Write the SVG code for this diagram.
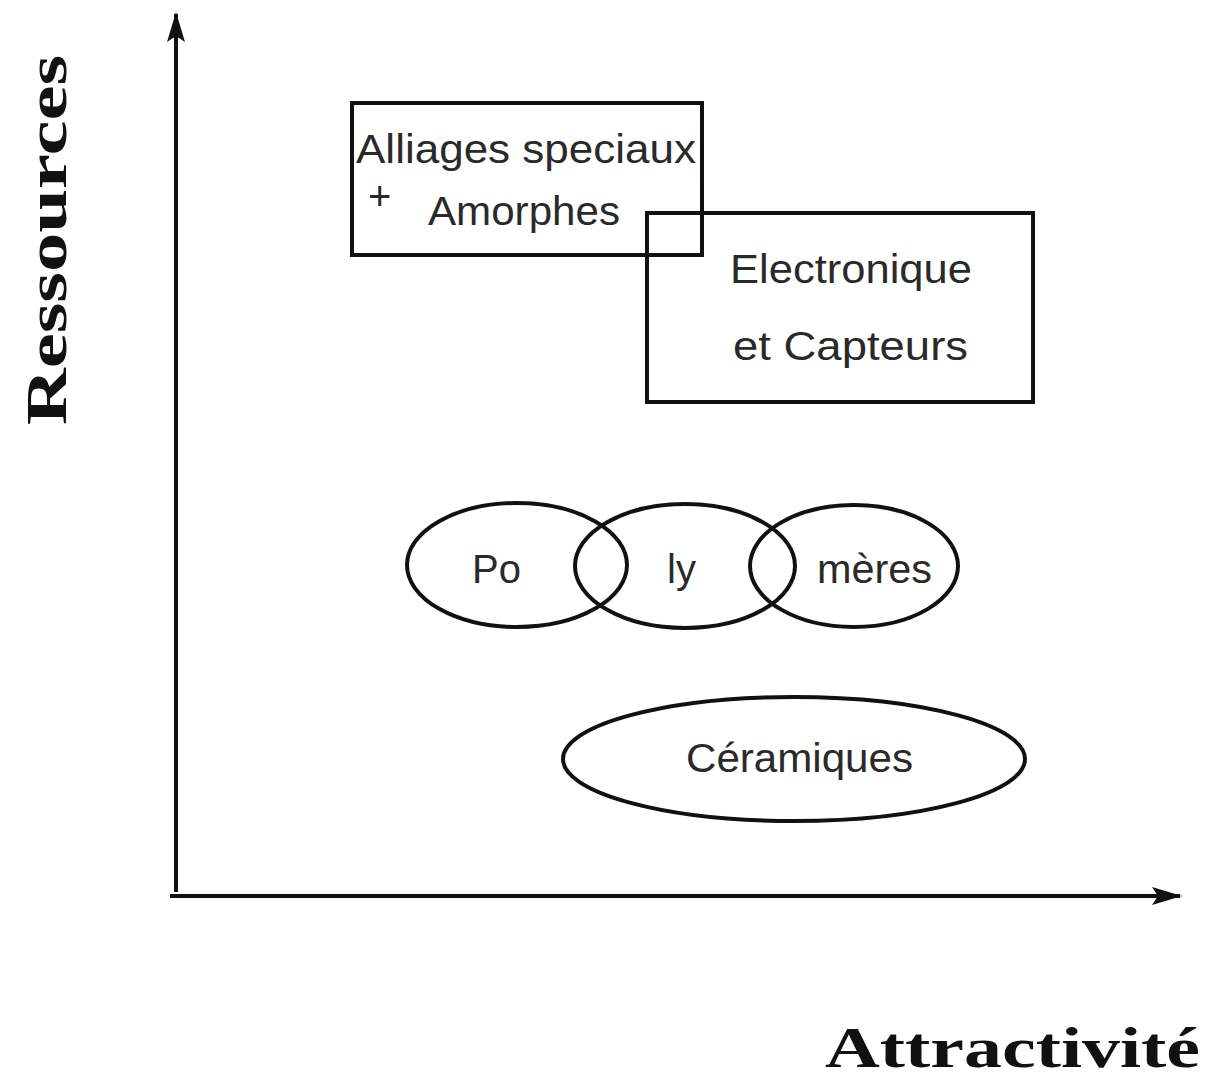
<svg xmlns="http://www.w3.org/2000/svg" width="1215" height="1085" viewBox="0 0 1215 1085">
<style>
.lbl{font-family:"Liberation Sans",Arial,sans-serif;font-size:40px;fill:#2a2a2a;}
.ax{font-family:"Liberation Serif","Times New Roman",serif;font-weight:bold;font-size:56px;fill:#111;}
.shape{fill:none;stroke:#111;stroke-width:4;}
.axis{fill:none;stroke:#111;stroke-width:4;}
</style>
<defs>
<marker id="ah" markerWidth="10" markerHeight="10" refX="8" refY="5" orient="auto" markerUnits="userSpaceOnUse" viewBox="0 0 10 10">
<path d="M0,0 L10,5 L0,10 L2,5 Z" fill="#111"/>
</marker>
<marker id="ahx" markerWidth="30" markerHeight="18" refX="28" refY="9" orient="auto" markerUnits="userSpaceOnUse" viewBox="0 0 30 18">
<path d="M0,0 L30,9 L0,18 L6,9 Z" fill="#111"/>
</marker>
</defs>
<rect width="1215" height="1085" fill="#fff"/>
<g id="connectors">
<line class="axis" x1="176" y1="892" x2="176" y2="14" marker-end="url(#ahx)"/>
<line class="axis" x1="170" y1="896" x2="1180" y2="896" marker-end="url(#ahx)"/>
</g>
<g id="alliages">
<rect class="shape" x="352" y="103" width="350" height="152"/>
<text class="lbl" x="356" y="163" textLength="340" lengthAdjust="spacingAndGlyphs">Alliages speciaux</text>
<text class="lbl" x="368" y="210">+</text>
<text class="lbl" x="428" y="225" textLength="192" lengthAdjust="spacingAndGlyphs">Amorphes</text>
</g>
<g id="electronique">
<rect class="shape" x="647" y="213" width="386" height="189"/>
<text class="lbl" x="730" y="283" textLength="242" lengthAdjust="spacingAndGlyphs">Electronique</text>
<text class="lbl" x="733" y="360" textLength="235" lengthAdjust="spacingAndGlyphs">et Capteurs</text>
</g>
<g id="polymeres">
<ellipse class="shape" cx="517" cy="565" rx="110" ry="62"/>
<ellipse class="shape" cx="685" cy="566" rx="110" ry="62"/>
<ellipse class="shape" cx="854" cy="566" rx="104" ry="61"/>
<text class="lbl" x="472" y="583">Po</text>
<text class="lbl" x="667" y="583">ly</text>
<text class="lbl" x="817" y="583" textLength="115" lengthAdjust="spacingAndGlyphs">mères</text>
</g>
<g id="ceramiques">
<ellipse class="shape" cx="794" cy="759" rx="231" ry="62"/>
<text class="lbl" x="686" y="772" textLength="227" lengthAdjust="spacingAndGlyphs">Céramiques</text>
</g>
<g id="axis-labels">
<text class="ax" transform="translate(66,425) rotate(-90)" textLength="370" lengthAdjust="spacingAndGlyphs">Ressources</text>
<text class="ax" x="825" y="1067" textLength="375" lengthAdjust="spacingAndGlyphs">Attractivité</text>
</g>
</svg>
